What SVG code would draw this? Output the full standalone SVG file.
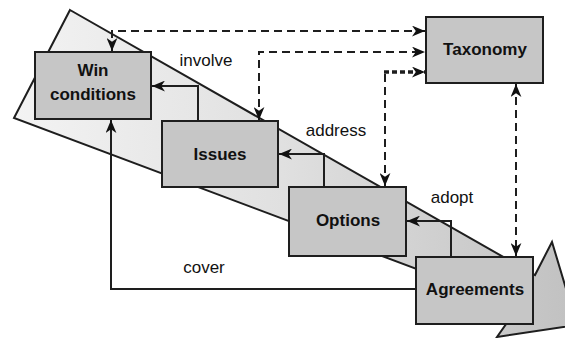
<svg xmlns="http://www.w3.org/2000/svg" width="565" height="338" viewBox="0 0 565 338">
<defs>
<linearGradient id="bandGrad" gradientUnits="userSpaceOnUse" x1="0" y1="0" x2="565" y2="0">
<stop offset="0" stop-color="#f4f4f4"/>
<stop offset="0.5" stop-color="#e0e0e0"/>
<stop offset="1" stop-color="#c2c2c2"/>
</linearGradient>
<marker id="ah" viewBox="0 0 12 10" markerWidth="13" markerHeight="11" refX="12" refY="5" orient="auto-start-reverse" markerUnits="userSpaceOnUse">
<path d="M0,0 L12,5 L0,10 L3.5,5 z" fill="#111"/>
</marker>
</defs>
<style>
.box{fill:#c6c6c6;stroke:#1e1e1e;stroke-width:2}
.name{font-family:"Liberation Sans",Arial,sans-serif;font-weight:bold;font-size:17px;fill:#111;text-anchor:middle}
.lbl{font-family:"Liberation Sans",Arial,sans-serif;font-size:17px;fill:#111;text-anchor:middle}
.solid{fill:none;stroke:#1e1e1e;stroke-width:2}
.dash{fill:none;stroke:#1e1e1e;stroke-width:2;stroke-dasharray:8 5}
.dashb{fill:none;stroke:#1e1e1e;stroke-width:3.5;stroke-dasharray:5 3}
</style>
<g id="band">
<polygon points="70,10 535,275 552,242 577,325 497,337 518,307 14,118" fill="url(#bandGrad)" stroke="#1e1e1e" stroke-width="2" stroke-linejoin="miter"/>
</g>
<g id="connectors">
<path class="solid" d="M198,121 V86 H152" marker-end="url(#ah)"/>
<path class="solid" d="M324,187 V154 H279" marker-end="url(#ah)"/>
<path class="solid" d="M451,257 V221 H407" marker-end="url(#ah)"/>
<path class="solid" d="M416,289 H111 V120" marker-end="url(#ah)"/>
<path class="dash" d="M112,51 V31 H425" marker-start="url(#ah)" marker-end="url(#ah)"/>
<path class="dash" d="M259,120 V52 H425" marker-start="url(#ah)" marker-end="url(#ah)"/>
<path class="dash" d="M385,74 V186" marker-end="url(#ah)"/>
<path class="dashb" d="M384,72 H425" marker-end="url(#ah)"/>
<path class="dash" d="M516,84 V256" marker-start="url(#ah)" marker-end="url(#ah)"/>
<text class="lbl" x="206" y="66">involve</text>
<text class="lbl" x="336" y="136">address</text>
<text class="lbl" x="452" y="203">adopt</text>
<text class="lbl" x="204" y="273">cover</text>
</g>
<g id="win-conditions">
<rect class="box" x="35" y="52" width="116" height="67"/>
<text class="name" x="93" y="76">Win</text>
<text class="name" x="93" y="100">conditions</text>
</g>
<g id="issues">
<rect class="box" x="162" y="121" width="116" height="66"/>
<text class="name" x="220" y="160">Issues</text>
</g>
<g id="taxonomy">
<rect class="box" x="426" y="17" width="117" height="66"/>
<text class="name" x="485" y="55">Taxonomy</text>
</g>
<g id="options">
<rect class="box" x="289" y="187" width="117" height="69"/>
<text class="name" x="348" y="226">Options</text>
</g>
<g id="agreements">
<rect class="box" x="416" y="257" width="117" height="67"/>
<text class="name" x="475" y="295">Agreements</text>
</g>
</svg>
